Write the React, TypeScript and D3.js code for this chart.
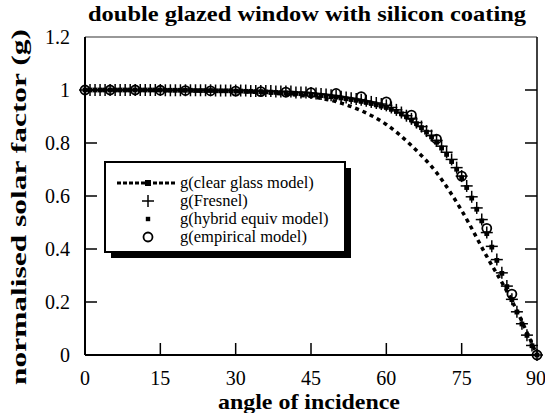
import React from "react";
import * as d3 from "d3";

const W = 545;
const H = 413;
const M = { left: 85, right: 8, top: 37, bottom: 58 };

const xTicks = [0, 15, 30, 45, 60, 75, 90];
const yTicks = [0, 0.2, 0.4, 0.6, 0.8, 1, 1.2];
const yTickLabels = ["0", "0.2", "0.4", "0.6", "0.8", "1", "1.2"];

// clear glass model (dotted line)
const clearAngles = [0, 5, 10, 15, 20, 25, 30, 35, 40, 45, 50, 55, 60, 65, 70, 75, 80, 85, 90];
const clearValues = [1.0, 1.0, 1.0, 0.999, 0.998, 0.997, 0.995, 0.99, 0.984, 0.975, 0.956, 0.922, 0.87, 0.79, 0.688, 0.545, 0.372, 0.205, 0];

// Fresnel (+) every degree
const fresnelAngles = d3.range(0, 91);
const fresnelValues = [
  1, 1, 1, 1, 1, 1, 1, 1, 1, 1,
  1, 1, 1, 1, 1, 1, 0.999, 0.999, 0.999, 0.999,
  0.999, 0.999, 0.999, 0.999, 0.999, 0.999, 0.998, 0.998, 0.998, 0.998,
  0.998, 0.998, 0.998, 0.996, 0.996, 0.996, 0.996, 0.996, 0.994, 0.994,
  0.994, 0.994, 0.991, 0.991, 0.991, 0.989, 0.987, 0.985, 0.983, 0.98,
  0.978, 0.975, 0.972, 0.969, 0.966, 0.963, 0.959, 0.955, 0.951, 0.947,
  0.942, 0.934, 0.925, 0.915, 0.903, 0.891, 0.877, 0.862, 0.845, 0.828,
  0.81, 0.788, 0.765, 0.738, 0.707, 0.675, 0.638, 0.597, 0.555, 0.511,
  0.462, 0.41, 0.36, 0.31, 0.26, 0.21, 0.163, 0.118, 0.075, 0.036,
  0,
];

// hybrid equiv model (small filled squares) every degree
const hybridAngles = d3.range(0, 91);
const hybridValues = [
  1, 1, 1, 1, 1, 1, 1, 1, 1, 1,
  1, 1, 1, 1, 1, 1, 0.999, 0.999, 0.999, 0.999,
  0.999, 0.999, 0.998, 0.998, 0.998, 0.998, 0.997, 0.997, 0.997, 0.997,
  0.996, 0.996, 0.995, 0.995, 0.994, 0.994, 0.993, 0.992, 0.991, 0.99,
  0.989, 0.988, 0.987, 0.986, 0.985, 0.983, 0.981, 0.979, 0.977, 0.975,
  0.973, 0.97, 0.967, 0.964, 0.961, 0.957, 0.953, 0.949, 0.944, 0.939,
  0.934, 0.927, 0.919, 0.91, 0.899, 0.887, 0.873, 0.858, 0.841, 0.823,
  0.803, 0.781, 0.757, 0.73, 0.701, 0.669, 0.632, 0.592, 0.55, 0.506,
  0.458, 0.407, 0.357, 0.308, 0.258, 0.209, 0.162, 0.117, 0.074, 0.035,
  0,
];

// empirical model (open circles) every 5 degrees
const empiricalAngles = [0, 5, 10, 15, 20, 25, 30, 35, 40, 45, 50, 55, 60, 65, 70, 75, 80, 85, 90];
const empiricalValues = [1.0, 1.0, 1.0, 0.999, 0.998, 0.997, 0.996, 0.994, 0.992, 0.99, 0.987, 0.975, 0.955, 0.905, 0.815, 0.675, 0.478, 0.23, 0];

const legendLabels = ["g(clear glass model)", "g(Fresnel)", "g(hybrid equiv model)", "g(empirical model)"];

const FONT = "Liberation Serif";

export default function App() {
  const x = d3.scaleLinear().domain([0, 90]).range([M.left, W - M.right]);
  const y = d3.scaleLinear().domain([0, 1.2]).range([H - M.bottom, M.top]);

  const clearLine = d3
    .line<number>()
    .x((_, i) => x(clearAngles[i]))
    .y((v) => y(v))
    .curve(d3.curveMonotoneX)(clearValues) as string;

  const x0 = x(0), x1 = x(90), y0 = y(0), y1 = y(1.2);
  const tickLen = 12;

  const lx = 105, ly = 162, lw = 240, lh = 90;
  const rowY = [183, 201, 219, 237];
  const symX = 148;

  return (
    <svg width={W} height={H} style={{ position: "absolute", left: 0, top: 0, background: "#fff" }}>
      {/* title */}
      <text x={307} y={21} textAnchor="middle" fontFamily={FONT} fontWeight="bold" fontSize={21}
        textLength={438} lengthAdjust="spacingAndGlyphs">
        double glazed window with silicon coating
      </text>
      {/* y label */}
      <text
        transform={`translate(26,${207}) rotate(-90)`}
        textAnchor="middle"
        fontFamily={FONT}
        fontWeight="bold"
        fontSize={22}
        textLength={356}
        lengthAdjust="spacingAndGlyphs"
      >
        normalised solar factor (g)
      </text>
      {/* x label */}
      <text x={309} y={409} textAnchor="middle" fontFamily={FONT} fontWeight="bold" fontSize={21}
        textLength={182} lengthAdjust="spacingAndGlyphs">
        angle of incidence
      </text>

      {/* frame */}
      <line x1={x0} x2={x1} y1={y1} y2={y1} stroke="#333" strokeWidth={1.2} />
      <line x1={x1} x2={x1} y1={y1} y2={y0} stroke="#111" strokeWidth={1.6} />
      <line x1={x0} x2={x0} y1={y1} y2={y0} stroke="#000" strokeWidth={2} />
      <line x1={x0} x2={x1} y1={y0} y2={y0} stroke="#000" strokeWidth={2} />

      {/* y ticks */}
      {yTicks.map((t, i) => (
        <g key={"yt" + i}>
          {t > 0 && t < 1.2 && (
            <>
              <line x1={x0} x2={x0 + tickLen} y1={y(t)} y2={y(t)} stroke="#000" strokeWidth={1.5} />
              <line x1={x1} x2={x1 - tickLen} y1={y(t)} y2={y(t)} stroke="#000" strokeWidth={1.5} />
            </>
          )}
          <text x={70} y={y(t) + 7} textAnchor="end" fontFamily={FONT} fontSize={20}>
            {yTickLabels[i]}
          </text>
        </g>
      ))}
      {/* x ticks */}
      {xTicks.map((t, i) => (
        <g key={"xt" + i}>
          {t > 0 && t < 90 && (
            <line x1={x(t)} x2={x(t)} y1={y0} y2={y0 - tickLen} stroke="#000" strokeWidth={1.5} />
          )}
          <text x={t === 90 ? x(t) - 1 : x(t)} y={385} textAnchor="middle" fontFamily={FONT} fontSize={20}>
            {String(t)}
          </text>
        </g>
      ))}

      {/* clear glass dotted line */}
      <path d={clearLine} fill="none" stroke="#000" strokeWidth={3.5} strokeDasharray="4 4" />

      {/* empirical circles */}
      {empiricalValues.map((v, i) => (
        <circle key={"e" + i} cx={x(empiricalAngles[i])} cy={y(v)} r={4.5} fill="none" stroke="#000" strokeWidth={1.8} />
      ))}

      {/* Fresnel crosses */}
      {fresnelValues.map((v, i) => {
        const cx = x(fresnelAngles[i]);
        const cy = y(v);
        return (
          <g key={"f" + i} stroke="#000" strokeWidth={1.5}>
            <line x1={cx - 6} x2={cx + 6} y1={cy} y2={cy} />
            <line x1={cx} x2={cx} y1={cy - 6} y2={cy + 6} />
          </g>
        );
      })}

      {/* hybrid squares */}
      {hybridValues.map((v, i) => (
        <rect key={"h" + i} x={x(hybridAngles[i]) - 2.4} y={y(v) - 2.4} width={4.8} height={4.8} fill="#000" />
      ))}

      {/* legend */}
      <rect x={lx + 6} y={ly + 6} width={lw} height={lh} fill="#000" />
      <rect x={lx} y={ly} width={lw} height={lh} fill="#fff" stroke="#000" strokeWidth={2} />
      <line x1={117} x2={175} y1={rowY[0]} y2={rowY[0]} stroke="#000" strokeWidth={3} strokeDasharray="4 2" />
      <rect x={symX - 3} y={rowY[0] - 3} width={6} height={6} fill="#000" />
      <g stroke="#000" strokeWidth={1.5}>
        <line x1={symX - 6} x2={symX + 6} y1={rowY[1]} y2={rowY[1]} />
        <line x1={symX} x2={symX} y1={rowY[1] - 6} y2={rowY[1] + 6} />
      </g>
      <rect x={symX - 2.2} y={rowY[2] - 2.2} width={4.4} height={4.4} fill="#000" />
      <circle cx={symX} cy={rowY[3]} r={4.5} fill="none" stroke="#000" strokeWidth={1.8} />
      {legendLabels.map((l, i) => (
        <text key={"l" + i} x={180} y={rowY[i] + 5} fontFamily={FONT} fontSize={16.5}>
          {l}
        </text>
      ))}
    </svg>
  );
}
